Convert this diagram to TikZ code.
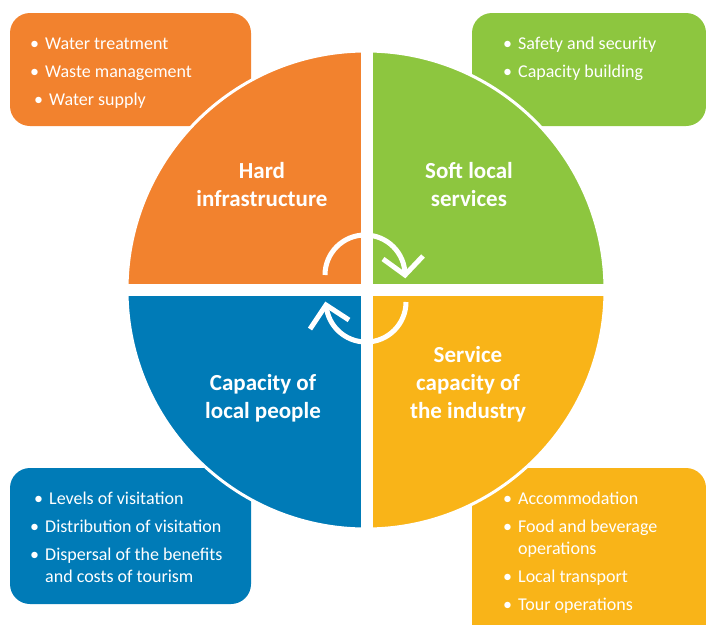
\documentclass[tikz,border=0pt]{standalone}
\usepackage{fontspec}
\setmainfont{Carlito}
\definecolor{corange}{RGB}{242,130,46}
\definecolor{cgreen}{RGB}{141,198,63}
\definecolor{cblue}{RGB}{0,123,183}
\definecolor{cyellow}{RGB}{249,180,24}
\newcommand{\bl}{\llap{\textbullet\hspace{6pt}}}
\begin{document}
\begin{tikzpicture}[x=1pt,y=-1pt,
  itembox/.style={rounded corners=20pt},
  bul/.style={anchor=base west, text=white, inner sep=0pt, font=\fontsize{18}{22}\selectfont},
  head/.style={anchor=base, text=white, inner sep=0pt, align=center, font=\fontsize{23}{28}\selectfont\bfseries},
  cross/.style={white, line width=12pt},
  arc/.style={white, line width=5pt},
  tip/.style={white, line width=5pt, line join=miter}
]
\useasboundingbox (0,0) rectangle (706,624);
\clip (0,0) rectangle (706,624);
% boxes
\fill[corange, itembox] (10,13) rectangle (251,126);
\fill[cgreen, itembox] (472,13) rectangle (706,126);
\fill[cblue, itembox] (10,468) rectangle (251,604);
\fill[cyellow, itembox] (472,468) rectangle (706,650);
% quadrants
\fill[corange] (366,290) -- (127,290) arc[start angle=180, end angle=270, radius=239] -- cycle;
\fill[cgreen] (366,290) -- (366,51) arc[start angle=270, end angle=360, radius=239] -- cycle;
\fill[cyellow] (366,290) -- (605,290) arc[start angle=0, end angle=90, radius=239] -- cycle;
\fill[cblue] (366,290) -- (366,529) arc[start angle=90, end angle=180, radius=239] -- cycle;
\draw[white, line width=3pt] (366,290) circle[radius=239];
\draw[cross] (366.5,40) -- (366.5,540);
\draw[cross] (115,289.5) -- (617,289.5);
% centre arrows
\coordinate (t1) at (325,275);
\coordinate (t2) at (405,275);
\draw[arc] (t1) arc[start angle=180, end angle=360, radius=40];
\coordinate (ta) at (383,259);
\coordinate (tb) at (423,256);
\draw[tip] (ta) -- (t2) -- (tb);
\coordinate (b1) at (406,302);
\coordinate (b2) at (326,305);
\draw[arc] (b1) arc[start angle=0, end angle=175, radius=40];
\coordinate (ba) at (310,329);
\coordinate (bb) at (349,320);
\draw[tip] (ba) -- (b2) -- (bb);
% headings (anchor = baseline of last line)
\node[head] (hard) at (262,206) {Hard\\infrastructure};
\node[head] (soft) at (469,206) {Soft local\\services};
\node[head] (serv) at (468,418) {Service\\capacity of\\the industry};
\node[head] (locp) at (263,418) {Capacity of\\local people};
% orange items
\node[bul] (o1) at (45,49) {\bl Water treatment};
\node[bul] (o2) at (45,77) {\bl Waste management};
\node[bul] (o3) at (49,105) {\bl Water supply};
% green items
\node[bul] (g1) at (518,49) {\bl Safety and security};
\node[bul] (g2) at (518,77) {\bl Capacity building};
% blue items
\node[bul] (b1t) at (49,504) {\bl Levels of visitation};
\node[bul] (b2t) at (45,532) {\bl Distribution of visitation};
\node[bul] (b3t) at (45,560) {\bl Dispersal of the benefits};
\node[bul] (b4t) at (45,582) {and costs of tourism};
% yellow items
\node[bul] (y1) at (518,504) {\bl Accommodation};
\node[bul] (y2) at (518,532) {\bl Food and beverage};
\node[bul] (y3) at (518,554) {operations};
\node[bul] (y4) at (518,582) {\bl Local transport};
\node[bul] (y5) at (518,610) {\bl Tour operations};
\end{tikzpicture}
\end{document}
